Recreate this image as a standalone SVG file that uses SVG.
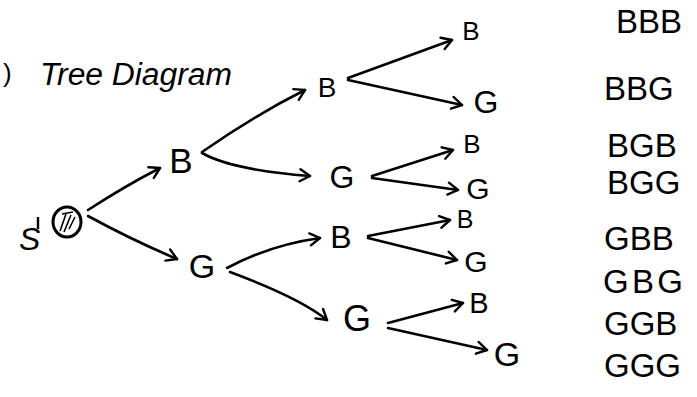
<svg xmlns="http://www.w3.org/2000/svg" width="697" height="397" viewBox="0 0 697 397">
<defs>
<style>
.t{font-family:"Liberation Sans",Arial,sans-serif;fill:#000;}
.n{font-family:"Liberation Sans",Arial,sans-serif;fill:#000;text-anchor:middle;}
.o{font-family:"Liberation Sans",Arial,sans-serif;fill:#000;font-size:33px;}
.c{fill:none;stroke:#000;stroke-width:2.6;stroke-linecap:round;marker-end:url(#ah);}
</style>
<marker id="ah" markerUnits="userSpaceOnUse" markerWidth="16" markerHeight="16" refX="12" refY="7" orient="auto" viewBox="0 0 16 14">
<path d="M2,1 L12,7 L2,13" fill="none" stroke="#000" stroke-width="2.4" stroke-linecap="round" stroke-linejoin="round"/>
</marker>
</defs>
<rect width="697" height="397" fill="#fff"/>
<g id="title">
<text class="t" x="3" y="82" font-size="26">)</text>
<text class="t" x="40" y="85" font-size="31" font-style="italic" textLength="192" lengthAdjust="spacingAndGlyphs">Tree Diagram</text>
</g>
<g id="start">
<text class="t" x="19" y="250" font-size="32" font-style="italic">S</text>
<line x1="38" y1="217" x2="38" y2="229" stroke="#000" stroke-width="2.4"/>
<ellipse cx="67" cy="222" rx="14" ry="15" fill="#fff" stroke="#000" stroke-width="3"/>
<path d="M60,231 L66,214 M64,232 L71,215 M69,229 L75,217 M62,214 L73,212" stroke="#000" stroke-width="1.6" fill="none"/>
</g>
<g id="connectors">
<path class="c" d="M88,210 Q125,186 160,168"/>
<path class="c" d="M88,216 Q132,240 177,259"/>
<path class="c" d="M202,152 Q255,115 305,90"/>
<path class="c" d="M202,153 Q232,170 310,176"/>
<path class="c" d="M348,78 L452,40"/>
<path class="c" d="M348,80 L462,105"/>
<path class="c" d="M372,176 L453,150"/>
<path class="c" d="M372,178 L458,190"/>
<path class="c" d="M227,268 Q270,245 320,238"/>
<path class="c" d="M230,272 Q300,298 327,320"/>
<path class="c" d="M368,236 L450,220"/>
<path class="c" d="M368,238 L457,260"/>
<path class="c" d="M388,323 L463,303"/>
<path class="c" d="M388,328 L487,350"/>
</g>
<g id="n-B1"><text class="n" x="181" y="173" font-size="35">B</text></g>
<g id="n-G1"><text class="n" x="202" y="278" font-size="34">G</text></g>
<g id="n-BB"><text class="n" x="327" y="97" font-size="28">B</text></g>
<g id="n-BG"><text class="n" x="342" y="188" font-size="32">G</text></g>
<g id="n-GB"><text class="n" x="341" y="248" font-size="32">B</text></g>
<g id="n-GG"><text class="n" x="357" y="331" font-size="36">G</text></g>
<g id="n-BBB"><text class="n" x="471" y="40" font-size="26">B</text></g>
<g id="n-BBG"><text class="n" x="486" y="113" font-size="32">G</text></g>
<g id="n-BGB"><text class="n" x="472" y="153" font-size="26">B</text></g>
<g id="n-BGG"><text class="n" x="478" y="199" font-size="30">G</text></g>
<g id="n-GBB"><text class="n" x="465" y="228" font-size="25">B</text></g>
<g id="n-GBG"><text class="n" x="476" y="272" font-size="30">G</text></g>
<g id="n-GGB"><text class="n" x="479" y="313" font-size="29">B</text></g>
<g id="n-GGG"><text class="n" x="507" y="366" font-size="34">G</text></g>
<g id="outcomes">
<text class="o" x="616" y="33">BBB</text>
<text class="o" x="604" y="100">BBG</text>
<text class="o" x="607" y="157">BGB</text>
<text class="o" x="607" y="194">BGG</text>
<text class="o" x="604" y="250">GBB</text>
<text class="o" x="603" y="293" textLength="80" lengthAdjust="spacing">GBG</text>
<text class="o" x="604" y="335">GGB</text>
<text class="o" x="604" y="377">GGG</text>
</g>
</svg>
